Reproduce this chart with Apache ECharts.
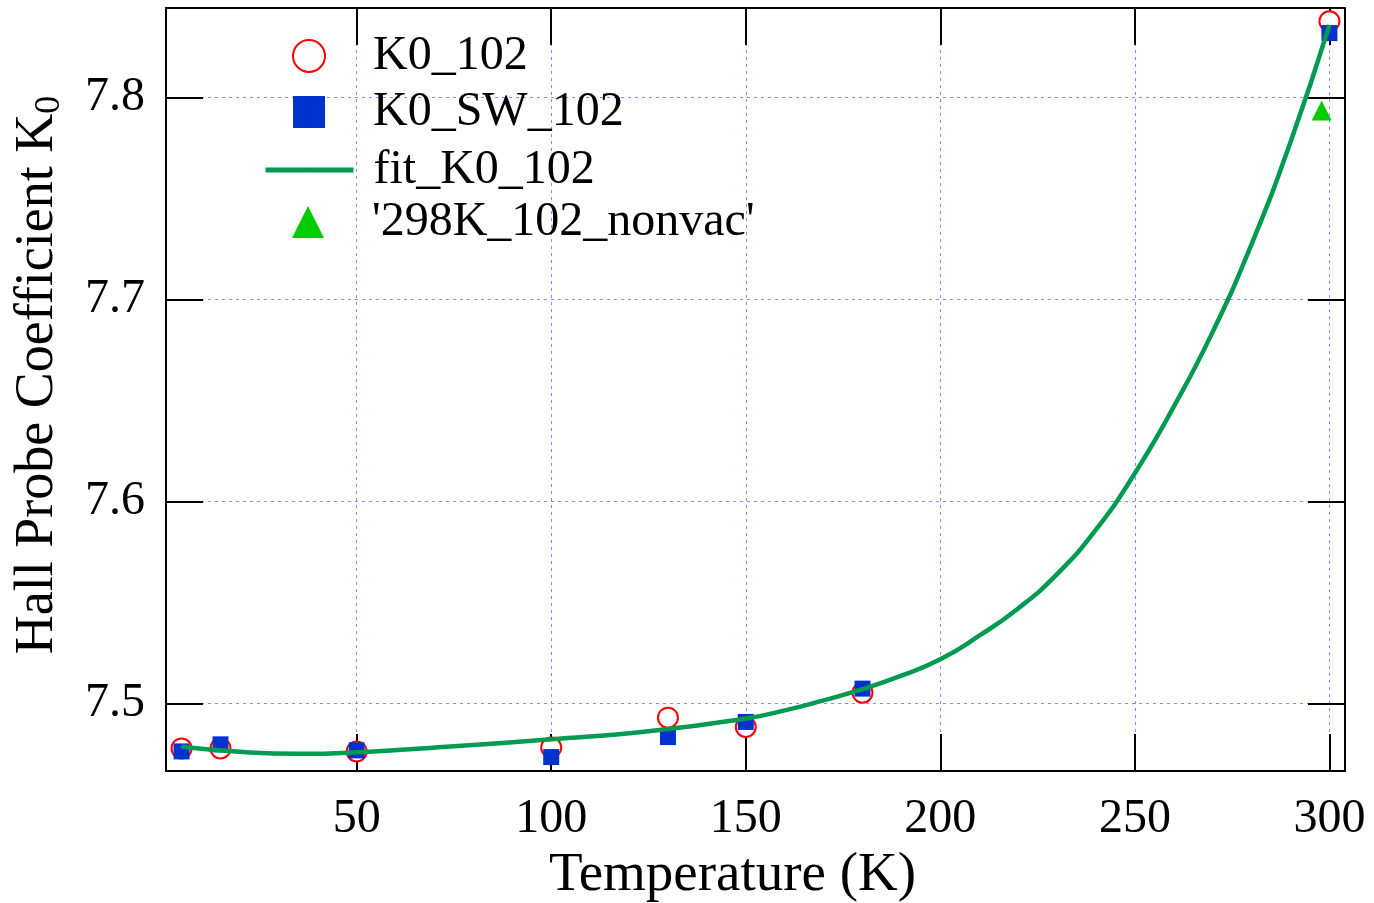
<!DOCTYPE html>
<html>
<head>
<meta charset="utf-8">
<script src="https://cdn.jsdelivr.net/npm/echarts@6/dist/echarts.min.js"></script>
<style>
  html, body { margin: 0; padding: 0; background: #fff; }
  #chart { width: 1374px; height: 903px; }
</style>
</head>
<body>
<div id="chart"></div>
<script>
// measured points, temperature (K) vs K0
const k0X = [5, 15, 50, 100, 130, 150, 180, 300];
const k0Y = [7.4777, 7.4777, 7.4762, 7.4781, 7.4929, 7.4883, 7.5053, 7.8378];

const k0swX = [5, 15, 50, 100, 130, 150, 180, 300];
const k0swY = [7.4762, 7.4797, 7.4767, 7.4734, 7.4833, 7.4908, 7.5073, 7.8320];

// fit curve
const fitX = [5, 20, 35, 50, 75, 100, 125, 150, 160, 170, 180, 190, 200, 210, 220, 230, 240, 250, 260, 270, 280, 290, 300];
const fitY = [7.4785, 7.4760, 7.4750, 7.4758, 7.4788, 7.4822, 7.4862, 7.4925, 7.4965, 7.5015, 7.5070, 7.5137, 7.5218, 7.5335, 7.5470, 7.5640, 7.5860, 7.6140, 7.6470, 7.6840, 7.7275, 7.7780, 7.8360];

const nonvacX = [298];
const nonvacY = [7.7936];

const seriesNames = ['K0_102', 'K0_SW_102', 'fit_K0_102', "'298K_102_nonvac'"];

const zip = (xs, ys) => xs.map((x, i) => [x, ys[i]]);

const FONT = "'Liberation Serif', 'Times New Roman', serif";
const GREEN = '#009a50';
const gridLine = { show: true, lineStyle: { color: '#8888ff', width: 1, type: [3, 4] } };
const tickIn = { show: true, inside: true, length: 37, lineStyle: { color: '#000', width: 2 } };
const axLine = { show: true, onZero: false, lineStyle: { color: '#000', width: 2 } };
const legendText = { fontFamily: FONT, fontSize: 48, color: '#000' };

// legend rows: symbols are square, the line entry is wide
function legendBox(names, left, top, width, height, pad) {
    return {
        orient: 'vertical',
        left: left,
        top: top,
        itemWidth: width,
        itemHeight: height,
        itemGap: 8,
        data: names,
        textStyle: Object.assign({ padding: [0, 0, 0, pad] }, legendText)
    };
}

const chart = echarts.init(document.getElementById('chart'));

chart.setOption({
    animation: false,
    backgroundColor: '#fff',
    textStyle: { fontFamily: FONT },
    grid: { left: 166, right: 29, top: 8, bottom: 132, containLabel: false, outerBoundsMode: 'none' },
    legend: [
        legendBox([seriesNames[0], seriesNames[1]], 287, 27, 32, 32, 43),
        Object.assign(legendBox([seriesNames[2]], 258, 141, 88, 5, 15), { lineStyle: { width: 5 } }),
        legendBox([seriesNames[3]], 287, 193, 32, 32, 43)
    ],
    xAxis: [
        {
            type: 'value', min: 1, max: 304, splitNumber: 6,
            position: 'bottom',
            name: 'Temperature (K)', nameLocation: 'middle', nameGap: 72,
            nameTextStyle: { fontFamily: FONT, fontSize: 55, color: '#000', padding: [0, 46, 0, 0] },
            axisLine: axLine, axisTick: tickIn,
            axisLabel: { fontFamily: FONT, fontSize: 48, color: '#000', margin: 24, showMinLabel: false, showMaxLabel: false },
            splitLine: gridLine
        },
        {
            type: 'value', min: 1, max: 304, splitNumber: 6,
            position: 'top',
            axisLine: axLine, axisTick: tickIn,
            axisLabel: { show: false }, splitLine: { show: false }
        }
    ],
    yAxis: [
        {
            type: 'value', min: 7.4665, max: 7.8444, splitNumber: 5,
            position: 'left',
            name: 'Hall Probe Coefficient K{sub|0}', nameLocation: 'middle', nameGap: 98,
            nameTextStyle: {
                fontFamily: FONT, fontSize: 54, color: '#000', padding: [0, 0, 0, 29],
                rich: { sub: { fontFamily: FONT, fontSize: 36, color: '#000', padding: [24, 0, 0, 0] } }
            },
            axisLine: axLine, axisTick: tickIn,
            axisLabel: { fontFamily: FONT, fontSize: 48, color: '#000', margin: 21, showMinLabel: false, showMaxLabel: false },
            splitLine: gridLine
        },
        {
            type: 'value', min: 7.4665, max: 7.8444, splitNumber: 5,
            position: 'right',
            axisLine: axLine, axisTick: tickIn,
            axisLabel: { show: false }, splitLine: { show: false }
        }
    ],
    series: [
        {
            name: seriesNames[0], type: 'scatter',
            symbol: 'emptyCircle', symbolSize: 20,
            itemStyle: { color: '#ff0000', borderColor: '#ff0000', borderWidth: 1.5, opacity: 1 },
            data: zip(k0X, k0Y), clip: false, z: 2
        },
        {
            name: seriesNames[1], type: 'scatter',
            symbol: 'rect', symbolSize: 16,
            itemStyle: { color: '#0033cc', opacity: 1 },
            data: zip(k0swX, k0swY), clip: false, z: 3
        },
        {
            name: seriesNames[2], type: 'line',
            smooth: 0.5,
            showSymbol: false, symbol: 'none',
            lineStyle: { color: GREEN, width: 4.5 },
            itemStyle: { color: GREEN },
            data: zip(fitX, fitY), z: 4
        },
        {
            name: seriesNames[3], type: 'scatter',
            symbol: 'triangle', symbolSize: 20,
            itemStyle: { color: '#00cc00', opacity: 1 },
            data: zip(nonvacX, nonvacY), clip: false, z: 5
        }
    ]
});
</script>
</body>
</html>
